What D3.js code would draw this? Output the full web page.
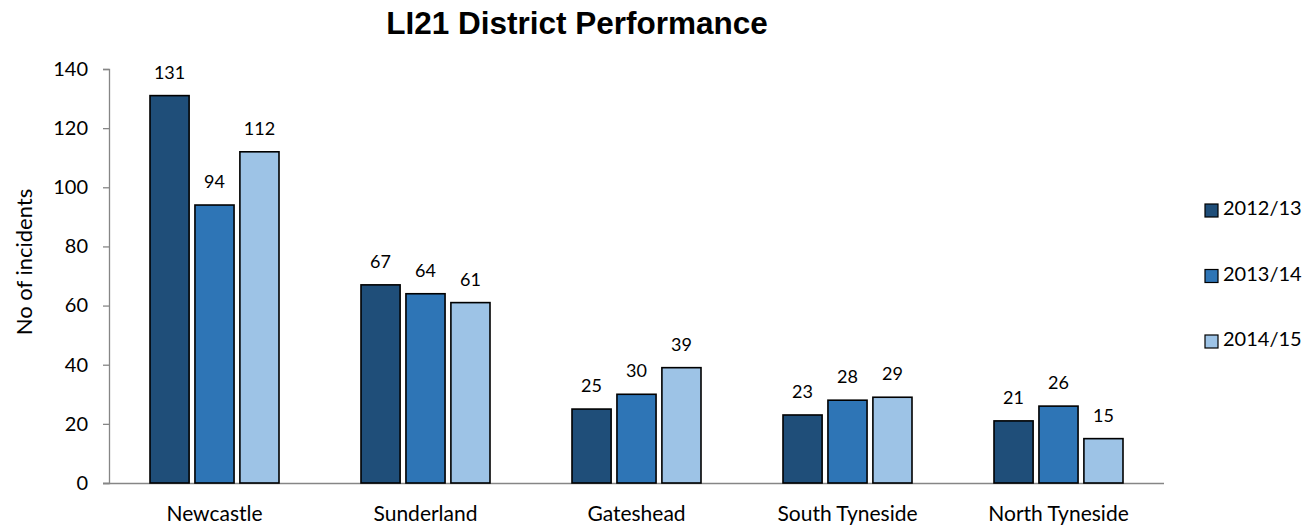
<!DOCTYPE html>
<html><head><meta charset="utf-8">
<script src="https://cdn.jsdelivr.net/npm/d3@7"></script>
<style>body{margin:0;background:#fff}svg{display:block}</style>
</head><body>
<svg id="c" width="1307" height="525"></svg>
<script>
const categories = ["Newcastle","Sunderland","Gateshead","South Tyneside","North Tyneside"];
const seriesNames = ["2012/13","2013/14","2014/15"];
const s2012 = [131,67,25,23,21];
const s2013 = [94,64,30,28,26];
const s2014 = [112,61,39,29,15];
const yTicks = [0,20,40,60,80,100,120,140];
const colors = ["#1F4E79","#2E75B6","#9DC3E6"];
const series = [s2012,s2013,s2014];

(function(){
const svg = d3.select("#c");
const font = "Lato, 'Open Sans', sans-serif";
const pLeft = 109, pRight = 1164, pTop = 69, pBottom = 483;

const x = d3.scaleBand().domain(categories).range([pLeft,pRight]).paddingInner(0).paddingOuter(0);
const x1 = d3.scaleBand().domain(seriesNames).range([41, x.bandwidth()-41]).paddingInner(0.13);
const y = d3.scaleLinear().domain([0,140]).range([pBottom,pTop]);

svg.append("text").attr("x",577).attr("y",34).attr("text-anchor","middle")
  .attr("font-family","'Liberation Sans', Arial, sans-serif").attr("font-weight","bold")
  .attr("font-size",31.5).text("LI21 District Performance");

const ya = svg.append("g").attr("transform",`translate(${pLeft},0)`)
  .call(d3.axisLeft(y).tickValues(yTicks).tickSize(6).tickPadding(15));
ya.select(".domain").attr("stroke","#868686").attr("stroke-width",1.3);
ya.selectAll(".tick line").attr("stroke","#868686").attr("stroke-width",1.3);
ya.selectAll("text").attr("font-family",font).attr("font-size",20).attr("fill","#000");

const xa = svg.append("g").attr("transform",`translate(0,${pBottom})`)
  .call(d3.axisBottom(x).tickSize(0).tickPadding(23));
xa.select(".domain").attr("stroke","#868686").attr("stroke-width",1.3).attr("d",`M${pLeft-6},0.5H${pRight}`);
xa.selectAll("text").attr("font-family",font).attr("font-size",21).attr("fill","#000");

svg.append("text").attr("transform","translate(32,262) rotate(-90)").attr("text-anchor","middle")
  .attr("font-family",font).attr("font-size",22).text("No of incidents");

const groups = svg.append("g").selectAll("g").data(categories).join("g")
  .attr("transform",d=>`translate(${x(d)},0)`);
groups.each(function(cat,ci){
  const g = d3.select(this);
  seriesNames.forEach((sn,si)=>{
    const v = series[si][ci];
    g.append("rect").attr("x",x1(sn)).attr("y",y(v)).attr("width",x1.bandwidth())
      .attr("height",y(0)-y(v)).attr("fill",colors[si]).attr("stroke","#000").attr("stroke-width",1.6);
    g.append("text").attr("x",x1(sn)+x1.bandwidth()/2).attr("y",y(v)-17)
      .attr("text-anchor","middle").attr("font-family",font).attr("font-size",18).text(v);
  });
});

const leg = svg.append("g");
seriesNames.forEach((sn,i)=>{
  const base = 215 + i*65.5;
  leg.append("rect").attr("x",1205).attr("y",base-11).attr("width",13).attr("height",13)
    .attr("fill",colors[i]).attr("stroke","#000").attr("stroke-width",1.2);
  leg.append("text").attr("x",1223).attr("y",base).attr("font-family",font).attr("font-size",20).text(sn);
});
})();
</script>
</body></html>
